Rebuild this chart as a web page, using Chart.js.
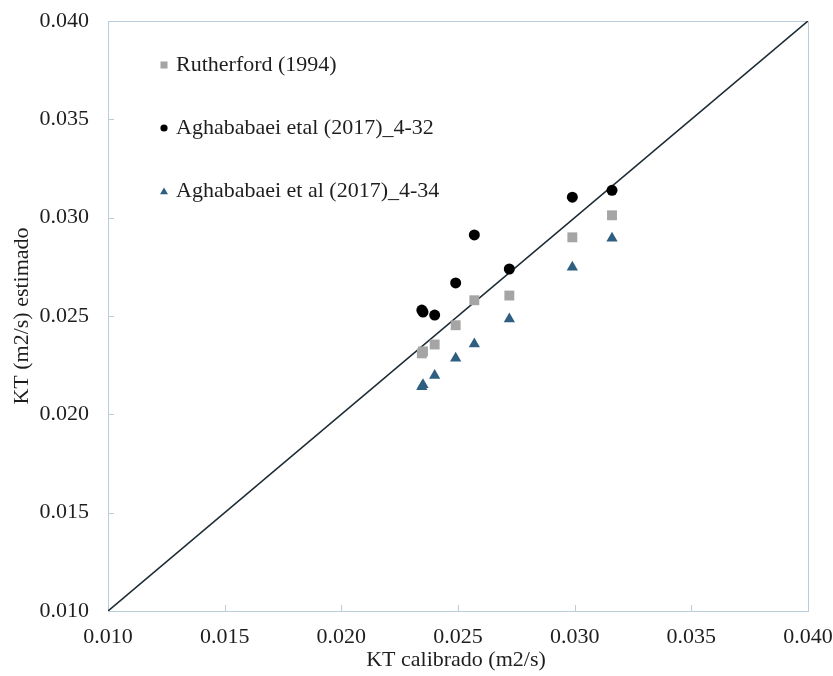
<!DOCTYPE html>
<html><head><meta charset="utf-8">
<script src="https://cdn.jsdelivr.net/npm/chart.js@4/dist/chart.umd.min.js"></script>
<style>html,body{margin:0;padding:0;background:#fff}#wrap{width:833px;height:676px}</style>
</head><body><div id="wrap"><canvas id="c" width="833" height="676"></canvas></div>
<script>
// Calibrated KT values (x) and estimated KT values from each formula (y), m2/s
const calibrated   = [0.02345, 0.0235, 0.0240, 0.0249, 0.0257, 0.0272, 0.0299, 0.0316];
const rutherford   = [0.0231, 0.0232, 0.02355, 0.02453, 0.0258, 0.02604, 0.0290, 0.03012];
const aghababaei32 = [0.0253, 0.0252, 0.02505, 0.02668, 0.02912, 0.02739, 0.03104, 0.03139];
const aghababaei34 = [0.02140, 0.02150, 0.02197, 0.02285, 0.02358, 0.02485, 0.02748, 0.02895];
const seriesNames  = ['Rutherford (1994)', 'Aghababaei etal (2017)_4-32', 'Aghababaei et al (2017)_4-34'];
const axisMin = 0.010, axisMax = 0.040, axisStep = 0.005;
const identityLine = [axisMin, axisMax];

const FONT = '22px "Liberation Serif", "Times New Roman", serif';
const TEXT_COLOR = '#1e1e1e';
const AXIS_COLOR = '#b8cedb';

const pts = ys => calibrated.map((x, i) => ({ x, y: ys[i] }));

function label(ctx, text, x, y, align) {
  ctx.save();
  ctx.font = FONT;
  ctx.textAlign = align;
  ctx.textBaseline = 'middle';
  ctx.fillStyle = TEXT_COLOR;
  ctx.fillText(text, x, y);
  ctx.restore();
}

// Frame, inward tick marks, tick labels, axis titles and the legend box
const decor = {
  id: 'decor',
  beforeDatasetsDraw(chart) {
    const { ctx, chartArea: a, scales } = chart;
    ctx.save();
    ctx.strokeStyle = AXIS_COLOR;
    ctx.lineWidth = 1;
    ctx.strokeRect(a.left + 0.5, a.top + 0.5, a.right - a.left, a.bottom - a.top);
    scales.x.ticks.forEach(t => {
      const px = Math.round(scales.x.getPixelForValue(t.value)) + 0.5;
      ctx.beginPath(); ctx.moveTo(px, a.bottom); ctx.lineTo(px, a.bottom - 6); ctx.stroke();
    });
    scales.y.ticks.forEach(t => {
      const py = Math.round(scales.y.getPixelForValue(t.value)) + 0.5;
      ctx.beginPath(); ctx.moveTo(a.left, py); ctx.lineTo(a.left + 6, py); ctx.stroke();
    });
    ctx.restore();
  },
  afterDraw(chart) {
    const { ctx, chartArea: a, scales } = chart;
    scales.x.ticks.forEach(t => {
      label(ctx, t.value.toFixed(3), scales.x.getPixelForValue(t.value), a.bottom + 26, 'center');
    });
    scales.y.ticks.forEach(t => {
      label(ctx, t.value.toFixed(3), 89, scales.y.getPixelForValue(t.value), 'right');
    });
    label(ctx, 'KT calibrado (m2/s)', (a.left + a.right) / 2 - 2, 660, 'center');
    ctx.save();
    ctx.translate(22, (a.top + a.bottom) / 2);
    ctx.rotate(-Math.PI / 2);
    label(ctx, 'KT (m2/s) estimado', 0, 0, 'center');
    ctx.restore();

    const rows = [65, 128, 191];
    const legendRadius = [5, 3.6, 4.6];
    chart.data.datasets.slice(0, 3).forEach((ds, i) => {
      ctx.save();
      ctx.fillStyle = ds.backgroundColor;
      ctx.strokeStyle = ds.backgroundColor;
      Chart.helpers.drawPoint(ctx, {
        pointStyle: ds.pointStyle, radius: legendRadius[i], rotation: 0, borderWidth: 0
      }, 164, rows[i] + (ds.pointStyle === 'triangle' ? 1 : 0));
      ctx.restore();
      label(ctx, ds.label, 176, rows[i], 'left');
    });
  }
};

new Chart(document.getElementById('c'), {
  type: 'scatter',
  data: {
    datasets: [
      { label: seriesNames[0], data: pts(rutherford), pointStyle: 'rect', pointRadius: 7,
        backgroundColor: '#a5a5a5', borderColor: '#a5a5a5', borderWidth: 0 },
      { label: seriesNames[1], data: pts(aghababaei32), pointStyle: 'circle', pointRadius: 5.5,
        backgroundColor: '#000000', borderColor: '#000000', borderWidth: 0 },
      { label: seriesNames[2], data: pts(aghababaei34), pointStyle: 'triangle', pointRadius: 6.5,
        backgroundColor: '#2f5f80', borderColor: '#2f5f80', borderWidth: 0 },
      { label: '1:1', data: identityLine.map(v => ({ x: v, y: v })), showLine: true,
        pointRadius: 0, borderColor: '#1c2b33', borderWidth: 1.6, fill: false }
    ]
  },
  options: {
    responsive: false,
    animation: false,
    events: [],
    layout: { padding: { left: 0, top: 21, right: 25, bottom: 0 }, autoPadding: false },
    plugins: { legend: { display: false }, tooltip: { enabled: false } },
    scales: {
      x: {
        type: 'linear', min: axisMin, max: axisMax,
        ticks: { stepSize: axisStep, display: false },
        grid: { display: false }, border: { display: false },
        afterFit(s) { s.height = 65; }
      },
      y: {
        type: 'linear', min: axisMin, max: axisMax,
        ticks: { stepSize: axisStep, display: false },
        grid: { display: false }, border: { display: false },
        afterFit(s) { s.width = 108; }
      }
    }
  },
  plugins: [decor]
});
</script></body></html>
